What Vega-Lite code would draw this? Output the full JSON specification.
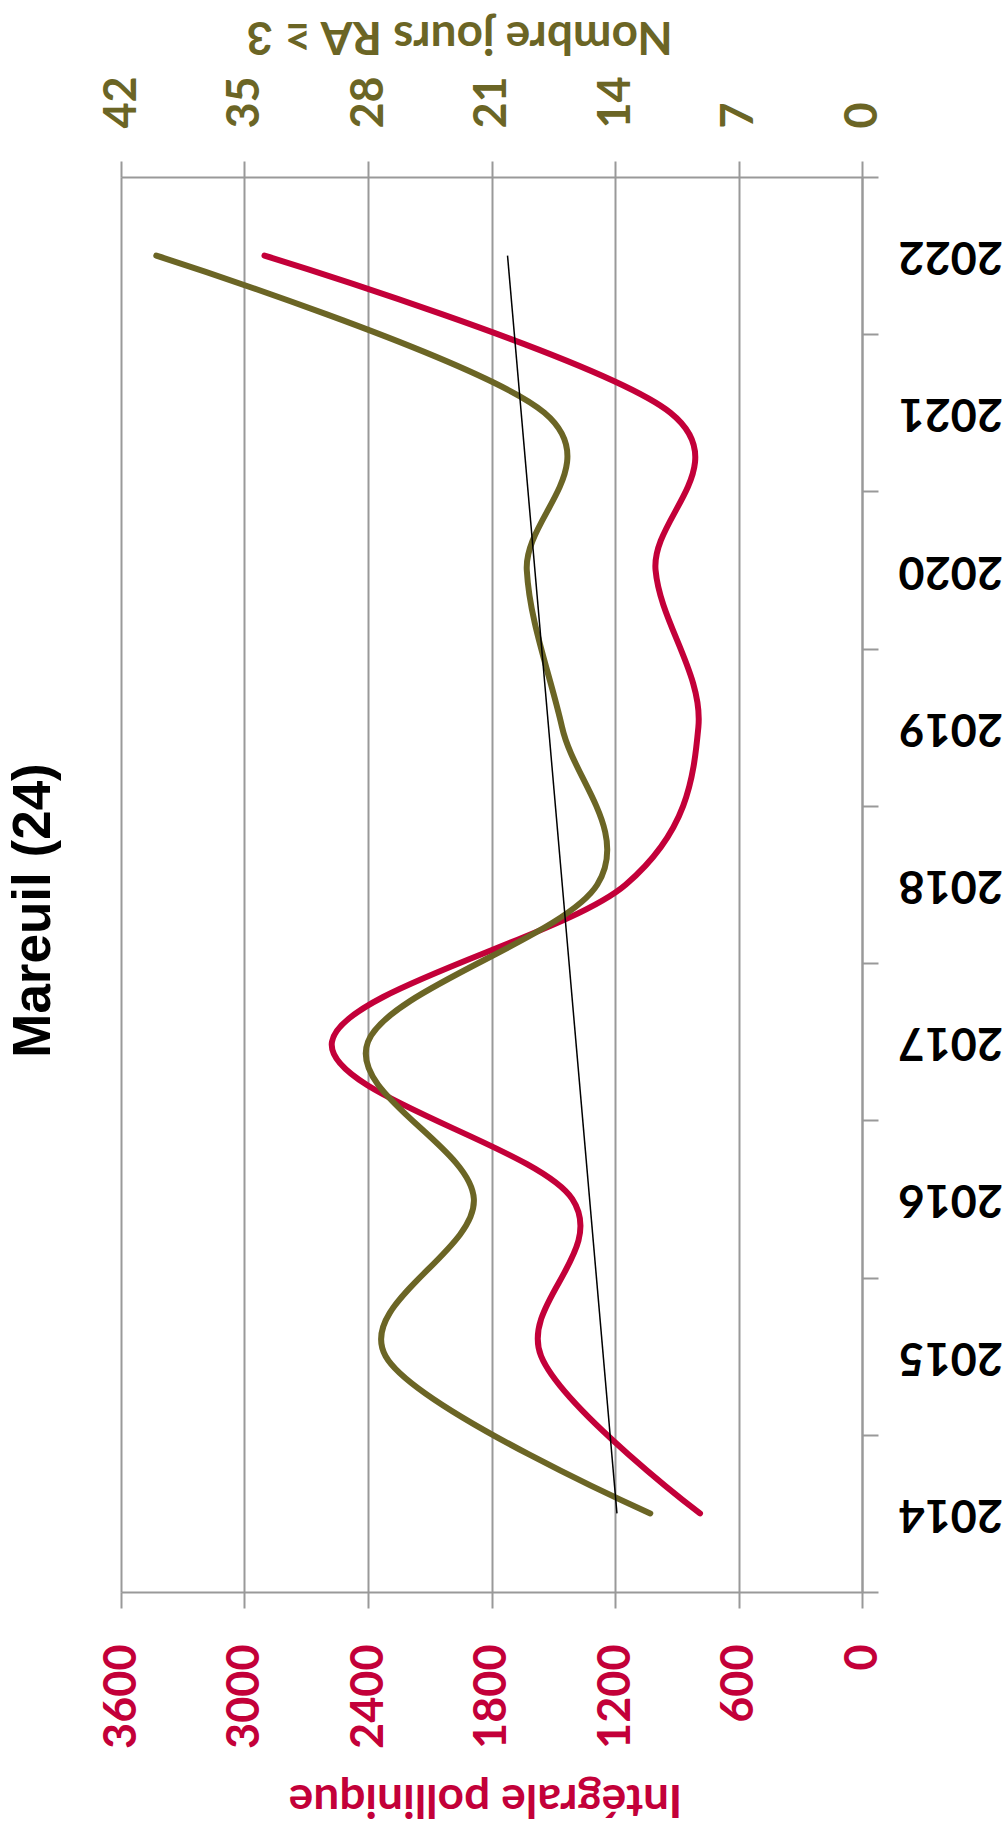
{
  "$schema": "https://vega.github.io/schema/vega-lite/v6.json",
  "width": 741,
  "height": 1415,
  "autosize": {"type": "none"},
  "padding": {"left": 121, "top": 177, "right": 143, "bottom": 242},
  "background": "white",
  "config": {"view": {"stroke": null}, "font": "Lato"},
  "title": {
    "text": "Mareuil (24)",
    "orient": "left",
    "anchor": "middle",
    "font": "Liberation Sans",
    "fontSize": 53,
    "fontWeight": "bold",
    "color": "black",
    "offset": 64,
    "dx": -26,
    "dy": 26
  },
  "data": {
    "values": [
      {"year": 2014, "pollen": 787, "jours": 12},
      {"year": 2015, "pollen": 1559, "jours": 27},
      {"year": 2016, "pollen": 1408, "jours": 22},
      {"year": 2017, "pollen": 2575, "jours": 28},
      {"year": 2018, "pollen": 1147, "jours": 15},
      {"year": 2019, "pollen": 795, "jours": 17},
      {"year": 2020, "pollen": 1003, "jours": 19},
      {"year": 2021, "pollen": 930, "jours": 18},
      {"year": 2022, "pollen": 2903, "jours": 40}
    ]
  },
  "encoding": {
    "y": {
      "field": "year",
      "type": "quantitative",
      "scale": {"domain": [2013.5, 2022.5], "nice": false, "zero": false},
      "axis": {
        "orient": "right",
        "values": [2013.5, 2014.5, 2015.5, 2016.5, 2017.5, 2018.5, 2019.5, 2020.5, 2021.5, 2022.5],
        "labelExpr": "datum.value > 2022 ? '' : format(datum.value + 0.5, 'd')",
        "labelOffset": -78.6,
        "grid": false,
        "tickSize": 16,
        "tickColor": "#999999",
        "tickWidth": 2,
        "domainColor": "#999999",
        "domainWidth": 2,
        "labelAngle": 180,
        "labelAlign": "right",
        "labelBaseline": "middle",
        "labelPadding": 20,
        "labelFont": "Lato",
        "labelFontSize": 45,
        "labelFontWeight": "bold",
        "labelColor": "black",
        "labelFlush": false,
        "labelOverlap": false,
        "labelBound": false,
        "title": null
      }
    }
  },
  "layer": [
    {
      "mark": {"type": "line", "interpolate": "cardinal", "tension": 0, "color": "#C30039", "strokeWidth": 6, "strokeCap": "round"},
      "encoding": {
        "x": {
          "field": "pollen",
          "type": "quantitative",
          "scale": {"domain": [0, 3600], "reverse": true, "nice": false, "zero": true},
          "axis": {
            "orient": "bottom",
            "values": [0, 600, 1200, 1800, 2400, 3000, 3600],
            "format": "d",
            "grid": true,
            "gridColor": "#999999",
            "gridWidth": 2,
            "domainColor": "#999999",
            "domainWidth": 2,
            "tickColor": "#999999",
            "tickWidth": 2,
            "tickSize": 16,
            "labelAngle": 270,
            "labelAlign": "right",
            "labelBaseline": "middle",
            "labelPadding": 36,
            "labelFont": "Lato",
            "labelFontSize": 45,
            "labelFontWeight": "bold",
            "labelColor": "#C30039",
            "labelFlush": false,
            "labelOverlap": false,
            "labelBound": false,
            "title": "Intégrale pollinique",
            "titleAngle": 180,
            "titleX": 364,
            "titleY": 206,
            "titleAlign": "center",
            "titleBaseline": "middle",
            "titleFont": "Lato",
            "titleFontSize": 46,
            "titleFontWeight": "bold",
            "titleColor": "#C30039"
          }
        },
        "order": {"field": "year", "type": "quantitative"}
      }
    },
    {
      "mark": {"type": "line", "interpolate": "cardinal", "tension": 0, "color": "#6B6525", "strokeWidth": 6, "strokeCap": "round"},
      "encoding": {
        "x": {
          "field": "jours",
          "type": "quantitative",
          "scale": {"domain": [0, 42], "reverse": true, "nice": false, "zero": true},
          "axis": {
            "orient": "top",
            "values": [0, 7, 14, 21, 28, 35, 42],
            "format": "d",
            "grid": false,
            "domainColor": "#999999",
            "domainWidth": 2,
            "tickColor": "#999999",
            "tickWidth": 2,
            "tickSize": 16,
            "labelAngle": 270,
            "labelAlign": "left",
            "labelBaseline": "middle",
            "labelPadding": 33,
            "labelFont": "Lato",
            "labelFontSize": 45,
            "labelFontWeight": "bold",
            "labelColor": "#6B6525",
            "labelFlush": false,
            "labelOverlap": false,
            "labelBound": false,
            "title": "Nombre jours  RA ≥ 3",
            "titleAngle": 180,
            "titleX": 338,
            "titleY": -142,
            "titleAlign": "center",
            "titleBaseline": "middle",
            "titleFont": "Lato",
            "titleFontSize": 46,
            "titleFontWeight": "bold",
            "titleColor": "#6B6525"
          }
        },
        "order": {"field": "year", "type": "quantitative"}
      }
    },
    {
      "transform": [
        {"regression": "pollen", "on": "year", "method": "linear"}
      ],
      "mark": {"type": "line", "color": "black", "strokeWidth": 1.5},
      "encoding": {
        "x": {
          "field": "pollen",
          "type": "quantitative",
          "scale": {"domain": [0, 3600], "reverse": true, "nice": false, "zero": true},
          "axis": null
        },
        "order": {"field": "year", "type": "quantitative"}
      }
    }
  ],
  "resolve": {"scale": {"x": "independent"}, "axis": {"x": "independent"}}
}
